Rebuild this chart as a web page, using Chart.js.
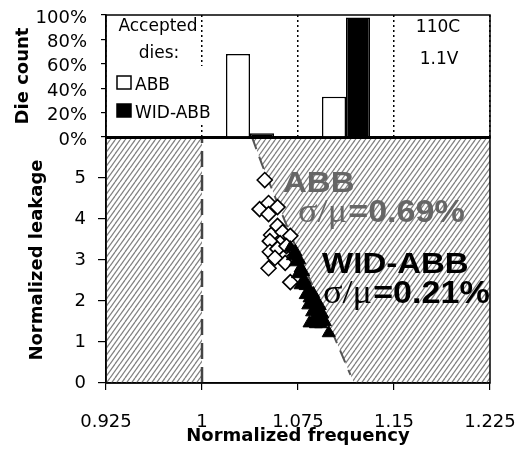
<!DOCTYPE html>
<html>
<head>
<meta charset="utf-8">
<script src="https://cdn.jsdelivr.net/npm/chart.js@4.4.0/dist/chart.umd.min.js"></script>
<style>
  html, body { margin: 0; padding: 0; background: #fff; }
  #wrap { position: relative; width: 524px; height: 456px; }
  #wrap canvas { position: absolute; left: 0; top: 0; }
</style>
</head>
<body>
<div id="wrap">
  <canvas id="leakChart" width="524" height="456"></canvas>
  <canvas id="countChart" width="524" height="160"></canvas>
</div>
<script>
// ---- values ----
const freqBins = ['0.925-1', '1-1.075', '1.075-1.15', '1.15-1.225'];
const abbShare = [null, 68, 33, null];
const widShare = [null, 3, 98, null];
const shareTicks = [0, 20, 40, 60, 80, 100];

const abbFreq = [1.049, 1.045, 1.052, 1.059, 1.052, 1.059, 1.054, 1.063, 1.069, 1.061,
                 1.053, 1.053, 1.063, 1.059, 1.065, 1.052, 1.069, 1.066, 1.057];
const abbLeak = [4.95, 4.24, 4.39, 4.29, 4.12, 3.83, 3.61, 3.68, 3.59, 3.41,
                 3.46, 3.20, 3.17, 3.27, 2.93, 2.80, 2.46, 3.34, 3.05];

const widFreq = [1.069, 1.071, 1.073, 1.073, 1.076, 1.077, 1.075, 1.079, 1.080, 1.077,
                 1.081, 1.084, 1.081, 1.084, 1.087, 1.083, 1.087, 1.089, 1.086, 1.090,
                 1.092, 1.088, 1.091, 1.094, 1.089, 1.084, 1.093, 1.096, 1.099];
const widLeak = [3.29, 3.10, 3.20, 2.95, 3.00, 2.80, 2.66, 2.71, 2.51, 2.39,
                 2.37, 2.27, 2.15, 2.07, 2.17, 1.90, 1.93, 2.02, 1.73, 1.78,
                 1.88, 1.59, 1.59, 1.68, 1.44, 1.46, 1.44, 1.49, 1.22];

// rejection limits (dashed lines)
const minFreq = [1, 1];
const minFreqLeak = [0, 6];
const limitFreq = [1.039, 1.047, 1.065, 1.116];
const limitLeak = [6, 5.32, 3.93, 0.2];

const freqTicks = [0.925, 1, 1.075, 1.15, 1.225];
const leakTicks = [0, 1, 2, 3, 4, 5];

// ---- helpers ----
const zip = (xs, ys) => xs.map((x, i) => ({ x: x, y: ys[i] }));

function makeHatch() {
  const c = document.createElement('canvas');
  c.width = 10; c.height = 14;
  const g = c.getContext('2d');
  g.strokeStyle = '#808080';
  g.lineWidth = 1.3;
  for (let o = -10; o <= 10; o += 5) {
    g.beginPath(); g.moveTo(o, 14); g.lineTo(o + 10, 0); g.stroke();
  }
  return g.createPattern(c, 'repeat');
}

Chart.defaults.font.family = '"DejaVu Sans", sans-serif';
Chart.defaults.color = '#000';
Chart.defaults.animation = false;

const framePlugin = {
  id: 'frame',
  afterDraw(chart) {
    const { ctx, chartArea: a } = chart;
    ctx.save();
    ctx.strokeStyle = '#000';
    ctx.lineWidth = 1.5;
    ctx.strokeRect(a.left, a.top, a.right - a.left, a.bottom - a.top);
    ctx.restore();
  }
};

// no extra room for edge labels, the panel edges are fixed by padding
const noEdgePad = s => { s.paddingLeft = 0; s.paddingRight = 0; s.paddingTop = 0; s.paddingBottom = 0; };

// hatched "rejected" regions
const hatch = makeHatch();
const hatchLeft = [{ x: freqTicks[0], y: 0 }, { x: minFreq[0], y: 0 }];
const n = limitFreq.length;
const slope = (limitFreq[n - 1] - limitFreq[n - 2]) / (limitLeak[n - 1] - limitLeak[n - 2]);
const hatchRight = zip(limitFreq, limitLeak).concat([
  { x: limitFreq[n - 1] - slope * limitLeak[n - 1], y: 0 },
  { x: freqTicks[freqTicks.length - 1], y: 0 }
]);

const notesPlugin = {
  id: 'notes',
  afterDatasetsDraw(chart) {
    const { ctx, scales: { x, y } } = chart;
    const sigma = '33px "Liberation Serif"';
    const notes = [
      { fx: 1.0633, ly: 4.66, color: '#666', parts: [['ABB', 'bold 30px "Liberation Sans"']] },
      { fx: 1.075, ly: 3.93, color: '#666', parts: [['σ/μ', sigma], ['=0.69%', 'bold 31px "Liberation Sans"']] },
      { fx: 1.0938, ly: 2.68, color: '#000', parts: [['WID-ABB', 'bold 30px "Liberation Sans"']] },
      { fx: 1.0945, ly: 1.95, color: '#000', parts: [['σ/μ', sigma], ['=0.21%', 'bold 31px "Liberation Sans"']] }
    ];
    ctx.save();
    notes.forEach(nt => {
      ctx.save();
      ctx.translate(x.getPixelForValue(nt.fx), y.getPixelForValue(nt.ly));
      ctx.scale(1.1, 1);
      ctx.fillStyle = nt.color;
      ctx.textBaseline = 'alphabetic';
      let cx = 0;
      nt.parts.forEach(([t, f]) => {
        ctx.font = f;
        ctx.fillText(t, cx, 0);
        cx += ctx.measureText(t).width + 1;
      });
      ctx.restore();
    });
    ctx.restore();
  }
};

new Chart(document.getElementById('leakChart'), {
  type: 'scatter',
  data: {
    datasets: [
      { label: 'WID-ABB', data: zip(widFreq, widLeak), pointStyle: 'triangle', pointRadius: 7.5,
        pointBackgroundColor: '#000', pointBorderColor: '#000', pointBorderWidth: 1, order: 0 },
      { label: 'ABB', data: zip(abbFreq, abbLeak), pointStyle: 'rectRot', pointRadius: 7.5,
        pointBackgroundColor: '#fff', pointBorderColor: '#000', pointBorderWidth: 1.6, order: 1 },
      { type: 'line', data: zip(limitFreq, limitLeak), showLine: true, borderColor: '#555',
        borderWidth: 2, borderDash: [13, 8], pointRadius: 0, fill: false, order: 2 },
      { type: 'line', data: zip(minFreq, minFreqLeak), showLine: true, borderColor: '#444',
        borderWidth: 2.5, borderDash: [16, 8], pointRadius: 0, fill: false, order: 2 },
      { type: 'line', data: hatchLeft, showLine: true, borderWidth: 0, pointRadius: 0,
        backgroundColor: hatch, fill: 'end', order: 3 },
      { type: 'line', data: hatchRight, showLine: true, borderWidth: 0, pointRadius: 0,
        backgroundColor: hatch, fill: 'end', order: 3 }
    ]
  },
  options: {
    responsive: false,
    devicePixelRatio: 1,
    layout: { padding: { top: 137, right: 34, bottom: 0, left: 0 } },
    plugins: { legend: { display: false }, tooltip: { enabled: false } },
    scales: {
      x: {
        type: 'linear', min: freqTicks[0], max: freqTicks[freqTicks.length - 1],
        afterBuildTicks: s => { s.ticks = freqTicks.map(v => ({ value: v })); },
        afterFit: s => { s.height = 73; noEdgePad(s); },
        ticks: { font: { size: 18 }, padding: 22, autoSkip: false, maxRotation: 0, callback: v => String(v) },
        grid: { drawOnChartArea: false, drawTicks: true, tickLength: 7, color: '#000', lineWidth: 1.2 },
        border: { color: '#000', width: 1.5 },
        title: { display: true, text: 'Normalized frequency', font: { size: 18, weight: 'bold' },
                 padding: { top: 0, bottom: 9 } }
      },
      y: {
        type: 'linear', min: 0, max: 6,
        afterBuildTicks: s => { s.ticks = leakTicks.map(v => ({ value: v })); },
        afterFit: s => { s.width = 106; noEdgePad(s); },
        ticks: { font: { size: 18 }, padding: 12, autoSkip: false },
        grid: { drawOnChartArea: false, drawTicks: true, tickLength: 8, color: '#000', lineWidth: 1.2 },
        border: { color: '#000', width: 1.5 },
        title: { display: true, text: 'Normalized leakage', font: { size: 18, weight: 'bold' },
                 padding: { top: 27, bottom: 0 } }
      }
    }
  },
  plugins: [notesPlugin, framePlugin]
});

// ---- top panel: share of accepted dies ----
const legendPlugin = {
  id: 'dieLegend',
  afterDraw(chart) {
    const { ctx, chartArea: a } = chart;
    ctx.save();
    ctx.fillStyle = '#fff';
    ctx.fillRect(a.left + 4, 66, 112, 58);
    ctx.fillStyle = '#000';
    ctx.font = '17px "DejaVu Sans"';
    ctx.textAlign = 'center';
    ctx.textBaseline = 'alphabetic';
    ctx.fillText('Accepted', a.left + 52, 31);
    ctx.fillText('dies:', a.left + 53, 58);
    ctx.fillText('110C', a.left + 332, 32);
    ctx.fillText('1.1V', a.left + 333, 64);
    ctx.textAlign = 'left';
    chart.data.datasets.forEach((ds, i) => {
      const by = 76 + i * 28;
      ctx.fillStyle = ds.backgroundColor;
      ctx.fillRect(a.left + 11, by, 14, 13);
      ctx.strokeStyle = '#000';
      ctx.lineWidth = 1.5;
      ctx.strokeRect(a.left + 11, by, 14, 13);
      ctx.fillStyle = '#000';
      ctx.fillText(ds.label, a.left + 29, by + 14);
    });
    ctx.restore();
  }
};

new Chart(document.getElementById('countChart'), {
  type: 'bar',
  data: {
    labels: freqBins,
    datasets: [
      { label: 'ABB', data: abbShare, backgroundColor: '#fff', borderColor: '#000', borderWidth: 1.5,
        categoryPercentage: 0.5, barPercentage: 1.0 },
      { label: 'WID-ABB', data: widShare, backgroundColor: '#000', borderColor: '#000', borderWidth: 1.5,
        categoryPercentage: 0.5, barPercentage: 1.0 }
    ]
  },
  options: {
    responsive: false,
    devicePixelRatio: 1,
    layout: { padding: { top: 15, right: 34, bottom: 23, left: 0 } },
    plugins: { legend: { display: false }, tooltip: { enabled: false } },
    scales: {
      x: {
        type: 'category',
        afterFit: s => { s.height = 0; noEdgePad(s); },
        ticks: { display: false },
        grid: { offset: true, drawTicks: false, color: '#000', lineWidth: 1.5 },
        border: { color: '#000', width: 3, dash: [2, 3] }
      },
      y: {
        min: 0, max: 100,
        afterBuildTicks: s => { s.ticks = shareTicks.map(v => ({ value: v })); },
        afterFit: s => { s.width = 106; noEdgePad(s); },
        ticks: { font: { size: 18 }, padding: 14, labelOffset: 3, autoSkip: false, callback: v => v + '%' },
        grid: { drawOnChartArea: false, drawTicks: true, tickLength: 5, color: '#000', lineWidth: 1.2 },
        border: { color: '#000', width: 1.5 },
        title: { display: true, text: 'Die count', font: { size: 18, weight: 'bold' },
                 padding: { top: 13, bottom: 0 } }
      }
    }
  },
  plugins: [framePlugin, legendPlugin]
});
</script>
</body>
</html>
